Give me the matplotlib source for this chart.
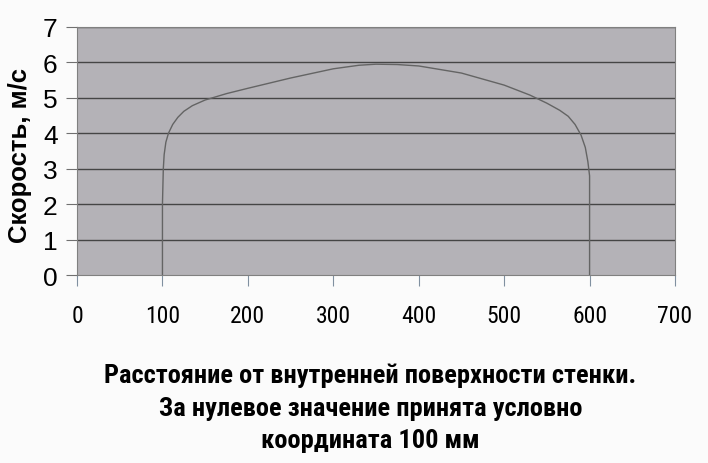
import matplotlib
matplotlib.use('Agg')
import matplotlib.pyplot as plt
from matplotlib import font_manager as fm
from fontTools.ttLib import TTFont

# Профиль скорости
dist = [100, 100, 100, 101, 102, 104, 107, 112, 118, 125, 135, 150, 175, 200,
        250, 300, 330, 350, 375, 400, 450, 500, 530, 550, 565, 575, 583, 590,
        595, 598, 600, 600, 600]
speed = [0, 1, 2, 3, 3.4, 3.75, 4.0, 4.25, 4.45, 4.62, 4.78, 4.94, 5.12, 5.27,
         5.56, 5.82, 5.92, 5.95, 5.94, 5.9, 5.7, 5.36, 5.08, 4.85, 4.65, 4.48,
         4.25, 3.95, 3.6, 3.2, 2.8, 2, 0]

x_ticks = [0, 100, 200, 300, 400, 500, 600, 700]
y_ticks = [0, 1, 2, 3, 4, 5, 6, 7]

xlabel_lines = ['Расстояние от внутренней поверхности стенки.',
                'За нулевое значение принята условно',
                'координата 100 мм']


def find_narrow():
    """Ищет узкий шрифт с кириллицей и жирным начертанием."""
    fams = {}
    for f in fm.fontManager.ttflist:
        if f.stretch not in ('condensed', 'semi-condensed', 'extra-condensed'):
            continue
        if 'Italic' in f.fname:
            continue
        try:
            cmap = TTFont(f.fname, fontNumber=0, lazy=True).getBestCmap()
        except Exception:
            continue
        if not cmap or 0x0420 not in cmap or 0x044F not in cmap:
            continue
        fams.setdefault(f.name, set()).add(f.weight)
    pref = ['Roboto Condensed', 'PT Sans Narrow', 'Arial Narrow', 'Liberation Sans Narrow',
            'Open Sans Condensed', 'Noto Sans Condensed', 'Fira Sans Condensed',
            'IBM Plex Sans Condensed', 'Ubuntu Condensed', 'Asap Condensed']
    for p in pref:
        if p in fams:
            return p
    for name, w in fams.items():
        if 700 in w or 'bold' in w:
            return name
    return next(iter(fams), 'Liberation Sans')


NARROW = [find_narrow(), 'Liberation Sans', 'DejaVu Sans']
REG = ['Liberation Sans', 'DejaVu Sans']

fig = plt.figure(figsize=(7.08, 4.64), dpi=100)
fig.patch.set_facecolor('#fbfbfb')
ax = fig.add_axes([0.1088, 0.405, 0.8446, 0.5347])
ax.set_facecolor('#b4b2b7')

for y in y_ticks[1:]:
    ax.axhline(y, color='#454545', lw=1.0, zorder=1)
ax.plot(dist, speed, color='#646464', lw=1.0, zorder=2)

ax.set_xlim(0, 700)
ax.set_ylim(0, 7)
ax.set_xticks(x_ticks)
ax.set_yticks(y_ticks)
ax.set_xticklabels([str(v) for v in x_ticks], family=NARROW, fontsize=17)
ax.set_yticklabels([str(v) for v in y_ticks], family=REG, fontsize=19)
ax.tick_params(axis='x', length=8, width=0.8, color='#8090a0', pad=13)
ax.tick_params(axis='y', length=8, width=0.8, color='#707070', pad=6)

for s in ax.spines.values():
    s.set_color('#808080')
    s.set_linewidth(0.8)

fig.text(0.028, 0.664, 'Скорость, м/с', rotation=90, ha='center', va='center',
         family=REG, fontsize=18.5, fontweight='bold')

for i, line in enumerate(xlabel_lines):
    fig.text(0.523, 0.19 - i * 0.0705, line, ha='center', va='center',
             family=NARROW, fontsize=19, fontweight='bold')

plt.savefig('out.png', dpi=100)
